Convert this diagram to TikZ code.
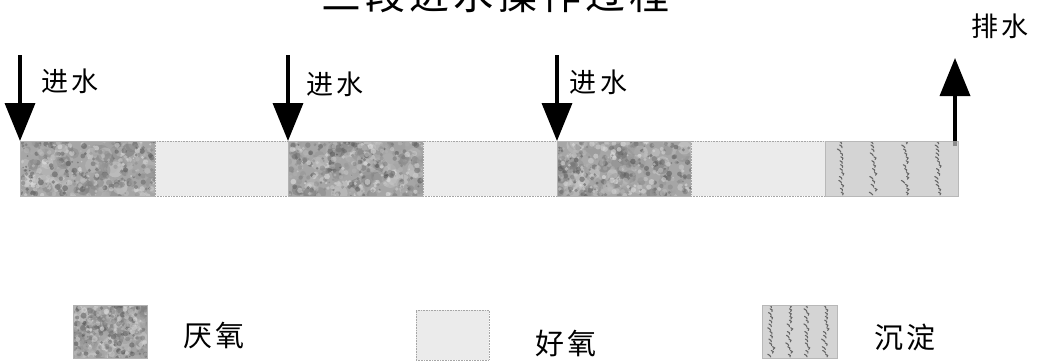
\documentclass[tikz,border=0pt]{standalone}
\usepackage{fontspec}
\newfontfamily\cjk{Noto Sans CJK SC}
\usetikzlibrary{arrows.meta,calc}
\newcommand\mottlefill{%
  \path (path picture bounding box.south west) coordinate (pa)
        (path picture bounding box.north east) coordinate (pb);
  \foreach \i in {1,...,90}{%
    \pgfmathsetmacro\rx{rnd}\pgfmathsetmacro\ry{rnd}%
    \pgfmathsetmacro\gr{int(10+55*rnd)}\pgfmathsetmacro\rr{3+6*rnd}%
    \fill[black!\gr, opacity=0.35] let \p1=(pa), \p2=(pb) in
      ({\x1+\rx*(\x2-\x1)},{\y1+\ry*(\y2-\y1)}) circle[radius=\rr pt];
  }
  \foreach \i in {1,...,420}{%
    \pgfmathsetmacro\rx{rnd}\pgfmathsetmacro\ry{rnd}%
    \pgfmathsetmacro\gr{int(10+60*rnd)}\pgfmathsetmacro\rr{0.8+2.2*rnd}%
    \fill[black!\gr, opacity=0.55] let \p1=(pa), \p2=(pb) in
      ({\x1+\rx*(\x2-\x1)},{\y1+\ry*(\y2-\y1)}) circle[radius=\rr pt];
  }}
\newcommand\settletex{%
  \path (path picture bounding box.south west) coordinate (pa)
        (path picture bounding box.north east) coordinate (pb);
  \foreach \c in {0.13,0.37,0.61,0.86}{%
    \foreach \j in {0,...,13}{%
      \pgfmathsetmacro\ox{2*rnd-1}\pgfmathsetmacro\oy{\j/14+0.02}%
      \draw[black!60, line width=1.1pt, line cap=round] let \p1=(pa), \p2=(pb) in
        ({\x1+\c*(\x2-\x1)+1.5*\ox pt},{\y1+\oy*(\y2-\y1)})
        -- ++({1.5*\ox pt},1.5pt) -- ++({-2pt},1.2pt);
    }}}
\tikzset{
  seg/.style={rectangle, anchor=north west, inner sep=0pt, outer sep=0pt},
  anaer/.style={seg, fill=black!35, draw=black!30, line width=0.5pt, path picture={\mottlefill}},
  aer/.style={seg, fill=black!8, draw=black!35, densely dotted, line width=0.6pt},
  settle/.style={seg, fill=black!17, draw=black!28, line width=0.5pt, path picture={\settletex}},
  flowarrow/.style={line width=3.6pt, -{Triangle[width=30pt,length=38pt]}},
  lbl/.style={font=\cjk\fontsize{27}{30}\selectfont, inner sep=0pt},
  leg/.style={font=\cjk\fontsize{29}{32}\selectfont, inner sep=0pt},
  ttl/.style={font=\cjk\fontsize{40}{44}\selectfont, inner sep=0pt, anchor=base},
}
\begin{document}
\begin{tikzpicture}[x=1pt,y=-1pt]
\pgfmathsetseed{11}
\useasboundingbox (0,0) rectangle (1037,360);
\fill[white] (0,0) rectangle (1037,360);
% title (cut by the top edge, as in the reference)
\node[ttl] (title) at (495,9) {三\hspace{4pt}段\hspace{4pt}进\hspace{4pt}水\hspace{4pt}操\hspace{4pt}作\hspace{4pt}过\hspace{4pt}程};
% bar
\node[anaer, minimum width=135pt, minimum height=55pt] (s1) at (20,141) {};
\node[aer, minimum width=133pt, minimum height=55pt] (s2) at (155,141) {};
\node[anaer, minimum width=135pt, minimum height=55pt] (s3) at (288,141) {};
\node[aer, minimum width=134pt, minimum height=55pt] (s4) at (423,141) {};
\node[anaer, minimum width=134pt, minimum height=55pt] (s5) at (557,141) {};
\node[aer, minimum width=134pt, minimum height=55pt] (s6) at (691,141) {};
\node[settle, minimum width=133pt, minimum height=55pt] (s7) at (825,141) {};
% inflow arrows
\coordinate (f1) at (20,55);
\coordinate (f2) at (288,55);
\coordinate (f3) at (557,55);
\draw[flowarrow] (f1) -- (s1.north west);
\draw[flowarrow] (f2) -- (s3.north west);
\draw[flowarrow] (f3) -- (s5.north west);
\node[lbl] (l1) at (70,81) {进\hspace{4pt}水};
\node[lbl] (l2) at (335,84) {进\hspace{4pt}水};
\node[lbl] (l3) at (598,82) {进\hspace{4pt}水};
% outflow
\coordinate (out) at (955,58);
\draw[line width=3.6pt, black!45] ([shift={(-3pt,-5pt)}]s7.north east) -- ([xshift=-3pt]s7.north east);
\draw[flowarrow] ([xshift=-3pt]s7.north east) -- (out);
\node[lbl] (l4) at (1000,26) {排\hspace{3pt}水};
% legend
\node[anaer, minimum width=74pt, minimum height=53pt] (k1) at (73,305) {};
\node[aer, minimum width=73pt, minimum height=50pt] (k2) at (416,310) {};
\node[settle, minimum width=75pt, minimum height=53pt] (k3) at (762,305) {};
\node[leg] (t1) at (214,336) {厌\hspace{4pt}氧};
\node[leg] (t2) at (566,343) {好\hspace{4pt}氧};
\node[leg] (t3) at (905,337) {沉\hspace{4pt}淀};
\end{tikzpicture}
\end{document}
